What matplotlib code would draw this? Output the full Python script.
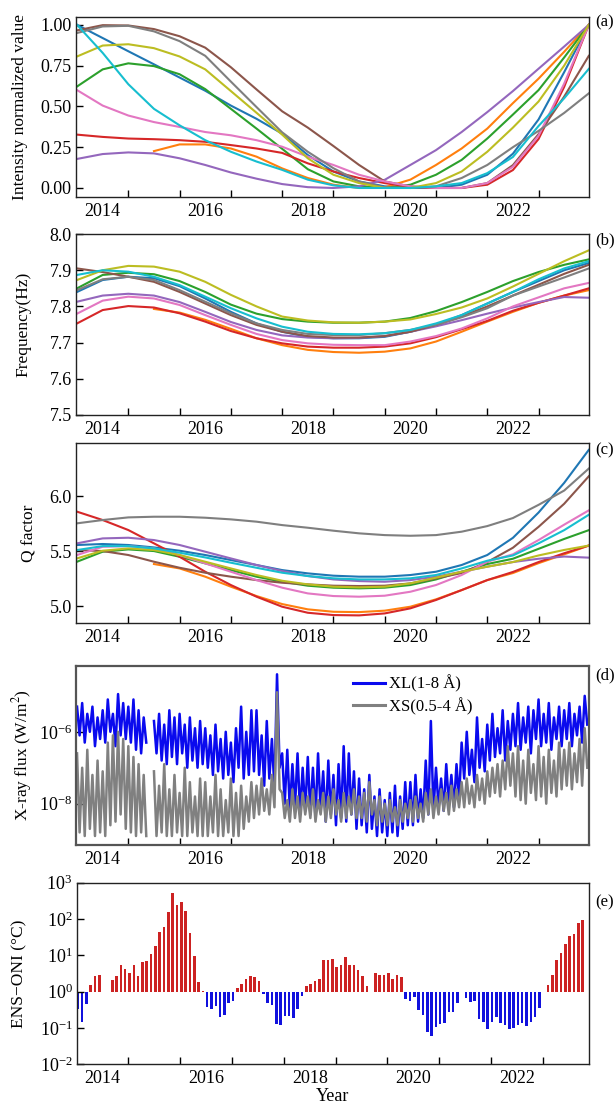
import numpy as np
import matplotlib.pyplot as plt
from matplotlib.ticker import FixedLocator, NullLocator, FormatStrFormatter

plt.rcParams['font.family'] = ['Liberation Serif', 'DejaVu Serif']
plt.rcParams['mathtext.fontset'] = 'stix'

nan = np.nan

# ---- panels (a)-(c): fitted curves, sampled every half year ----
fit_years = [2013.5, 2014.0, 2014.5, 2015.0, 2015.5, 2016.0, 2016.5, 2017.0, 2017.5, 2018.0, 2018.5,
             2019.0, 2019.5, 2020.0, 2020.5, 2021.0, 2021.5, 2022.0, 2022.5, 2023.0, 2023.48]

int_blue = [1.0, 0.919, 0.838, 0.758, 0.677, 0.596, 0.505, 0.424, 0.333, 0.202, 0.101, 0.04, 0.01, 0.0, 0.0, 0.02, 0.081, 0.21, 0.42, 0.71, 1.0]
int_orange = [nan, nan, nan, 0.226, 0.267, 0.267, 0.242, 0.192, 0.12, 0.061, 0.02, 0.0, 0.004, 0.051, 0.141, 0.242, 0.364, 0.52, 0.67, 0.835, 1.0]
int_green = [0.622, 0.727, 0.764, 0.747, 0.697, 0.606, 0.485, 0.364, 0.24, 0.115, 0.04, 0.01, 0.0, 0.02, 0.081, 0.172, 0.303, 0.45, 0.60, 0.80, 1.0]
int_red = [0.327, 0.313, 0.303, 0.299, 0.293, 0.283, 0.263, 0.242, 0.215, 0.151, 0.101, 0.061, 0.03, 0.006, 0.0, 0.0, 0.02, 0.11, 0.30, 0.62, 1.0]
int_purple = [0.178, 0.208, 0.218, 0.212, 0.182, 0.141, 0.095, 0.057, 0.024, 0.005, 0.0, 0.01, 0.05, 0.141, 0.232, 0.343, 0.465, 0.594, 0.731, 0.867, 1.0]
int_brown = [0.966, 0.998, 0.996, 0.974, 0.93, 0.86, 0.74, 0.604, 0.47, 0.37, 0.257, 0.141, 0.04, 0.01, 0.0, 0.0, 0.03, 0.14, 0.33, 0.56, 0.81]
int_pink = [0.60, 0.505, 0.444, 0.404, 0.374, 0.343, 0.323, 0.293, 0.253, 0.192, 0.141, 0.081, 0.04, 0.01, 0.0, 0.0, 0.03, 0.13, 0.32, 0.64, 1.0]
int_gray = [0.95, 0.99, 0.994, 0.96, 0.90, 0.81, 0.652, 0.496, 0.341, 0.222, 0.121, 0.04, 0.004, 0.0, 0.01, 0.061, 0.141, 0.25, 0.35, 0.46, 0.58]
int_olive = [0.806, 0.873, 0.881, 0.857, 0.806, 0.727, 0.594, 0.461, 0.327, 0.182, 0.081, 0.03, 0.0, 0.0, 0.03, 0.101, 0.222, 0.37, 0.53, 0.75, 1.0]
int_cyan = [1.0, 0.828, 0.636, 0.485, 0.384, 0.293, 0.222, 0.162, 0.111, 0.051, 0.016, 0.0, 0.0, 0.0, 0.01, 0.03, 0.091, 0.19, 0.38, 0.55, 0.73]

freq_blue = [7.84, 7.873, 7.882, 7.878, 7.856, 7.822, 7.785, 7.753, 7.73, 7.716, 7.712, 7.712, 7.716, 7.73, 7.749, 7.776, 7.808, 7.84, 7.87, 7.90, 7.92]
freq_orange = [nan, nan, nan, 7.793, 7.783, 7.763, 7.738, 7.712, 7.693, 7.68, 7.674, 7.672, 7.675, 7.684, 7.703, 7.73, 7.758, 7.785, 7.81, 7.83, 7.845]
freq_green = [7.85, 7.887, 7.893, 7.889, 7.87, 7.84, 7.805, 7.78, 7.765, 7.758, 7.755, 7.755, 7.758, 7.768, 7.787, 7.812, 7.84, 7.87, 7.895, 7.915, 7.93]
freq_red = [7.753, 7.79, 7.801, 7.797, 7.781, 7.758, 7.732, 7.712, 7.698, 7.689, 7.686, 7.686, 7.689, 7.698, 7.715, 7.737, 7.76, 7.788, 7.81, 7.83, 7.85]
freq_purple = [7.813, 7.83, 7.835, 7.83, 7.812, 7.785, 7.757, 7.735, 7.72, 7.714, 7.712, 7.713, 7.718, 7.73, 7.745, 7.762, 7.78, 7.797, 7.812, 7.826, 7.824]
freq_brown = [7.905, 7.895, 7.882, 7.868, 7.84, 7.808, 7.776, 7.749, 7.73, 7.718, 7.714, 7.714, 7.718, 7.73, 7.749, 7.772, 7.80, 7.83, 7.86, 7.89, 7.915]
freq_pink = [7.78, 7.816, 7.827, 7.822, 7.804, 7.776, 7.749, 7.724, 7.707, 7.698, 7.694, 7.693, 7.693, 7.703, 7.718, 7.739, 7.767, 7.80, 7.825, 7.85, 7.865]
freq_gray = [7.845, 7.875, 7.882, 7.873, 7.845, 7.813, 7.781, 7.753, 7.735, 7.724, 7.721, 7.721, 7.726, 7.735, 7.749, 7.77, 7.795, 7.83, 7.855, 7.88, 7.905]
freq_olive = [7.873, 7.90, 7.912, 7.91, 7.896, 7.868, 7.832, 7.80, 7.772, 7.761, 7.756, 7.755, 7.758, 7.764, 7.779, 7.797, 7.822, 7.855, 7.89, 7.925, 7.955]
freq_cyan = [7.887, 7.90, 7.896, 7.882, 7.859, 7.827, 7.795, 7.767, 7.744, 7.73, 7.724, 7.723, 7.726, 7.735, 7.753, 7.776, 7.808, 7.84, 7.875, 7.905, 7.925]

q_blue = [5.555, 5.564, 5.555, 5.533, 5.503, 5.464, 5.418, 5.373, 5.327, 5.297, 5.276, 5.267, 5.267, 5.282, 5.312, 5.373, 5.464, 5.62, 5.85, 6.12, 6.42]
q_orange = [nan, nan, nan, 5.382, 5.342, 5.267, 5.176, 5.091, 5.018, 4.97, 4.948, 4.945, 4.958, 4.994, 5.061, 5.145, 5.236, 5.30, 5.39, 5.47, 5.55]
q_green = [5.403, 5.494, 5.515, 5.50, 5.448, 5.388, 5.327, 5.267, 5.221, 5.185, 5.167, 5.161, 5.167, 5.191, 5.242, 5.312, 5.382, 5.43, 5.52, 5.61, 5.69]
q_red = [5.858, 5.782, 5.691, 5.570, 5.448, 5.312, 5.191, 5.085, 4.994, 4.939, 4.918, 4.915, 4.933, 4.979, 5.055, 5.145, 5.236, 5.31, 5.40, 5.48, 5.55]
q_purple = [5.57, 5.615, 5.621, 5.60, 5.555, 5.494, 5.433, 5.373, 5.318, 5.273, 5.242, 5.227, 5.221, 5.236, 5.267, 5.312, 5.358, 5.40, 5.43, 5.45, 5.44]
q_brown = [5.509, 5.50, 5.464, 5.403, 5.348, 5.303, 5.267, 5.236, 5.212, 5.197, 5.185, 5.182, 5.185, 5.206, 5.252, 5.30, 5.40, 5.53, 5.72, 5.93, 6.18]
q_pink = [5.464, 5.539, 5.545, 5.524, 5.464, 5.388, 5.312, 5.236, 5.167, 5.115, 5.091, 5.085, 5.094, 5.13, 5.191, 5.282, 5.403, 5.47, 5.60, 5.74, 5.87]
q_gray = [5.752, 5.782, 5.806, 5.812, 5.812, 5.803, 5.788, 5.767, 5.736, 5.712, 5.685, 5.661, 5.645, 5.639, 5.645, 5.676, 5.727, 5.80, 5.92, 6.05, 6.25]
q_olive = [5.433, 5.503, 5.524, 5.509, 5.464, 5.403, 5.342, 5.282, 5.23, 5.197, 5.176, 5.17, 5.176, 5.206, 5.258, 5.312, 5.358, 5.40, 5.46, 5.51, 5.55]
q_cyan = [5.509, 5.545, 5.545, 5.524, 5.485, 5.442, 5.394, 5.348, 5.303, 5.273, 5.252, 5.242, 5.242, 5.252, 5.282, 5.342, 5.412, 5.46, 5.57, 5.69, 5.83]

line_colors = ['#1f77b4', '#ff7f0e', '#2ca02c', '#d62728', '#9467bd',
               '#8c564b', '#e377c2', '#7f7f7f', '#bcbd22', '#17becf']

# ---- panel (d): X-ray flux, log10(W/m^2), every 0.05 yr from 2013.50 ----
xl_log = [
    # 2013.50 - 2014.45
    -5.3, -6.1, -5.2, -6.3, -5.5, -6.0, -5.3, -6.4, -5.6, -6.2, -5.4, -6.3, -5.1, -6.0, -5.5, -6.4, -4.95, -6.1, -5.2, -6.2,
    # 2014.50 - 2014.95 (data gap at the end)
    -5.3, -6.3, -5.1, -6.5, -5.4, -6.6, -5.6, -6.3, nan, nan,
    # 2015
    -5.7, -6.6, -5.5, -6.8, -5.8, -6.9, -5.4, -6.7, -5.6, -6.9, -5.5, -6.6, -5.8, -7.0, -5.6, -6.8, -5.9, -7.0, -5.7, -6.9,
    # 2016
    -5.9, -7.0, -6.1, -7.2, -5.8, -7.1, -6.2, -7.3, -6.0, -7.2, -6.3, -7.4, -5.9, -7.0, -5.3, -7.3, -6.0, -7.2, -5.4, -7.1,
    # 2017
    -5.4, -7.2, -6.1, -7.5, -5.7, -7.3, -6.2, -7.6, -4.4, -7.0, -6.6, -8.0, -6.5, -8.2, -6.9, -8.1, -6.6, -8.3, -7.0, -8.2,
    # 2018
    -6.7, -8.3, -7.0, -8.4, -6.6, -8.2, -7.1, -8.5, -6.8, -8.3, -7.2, -8.6, -6.9, -8.4, -6.4, -8.5, -6.6, -8.3, -7.1, -8.7,
    # 2019
    -7.3, -8.6, -7.6, -8.8, -7.2, -8.7, -7.8, -8.9, -7.6, -8.8, -7.9, -8.9, -7.7, -8.8, -7.5, -8.9, -7.8, -8.7, -7.4, -8.6,
    # 2020
    -7.4, -8.6, -7.2, -8.5, -7.6, -8.4, -6.8, -8.3, -5.7, -8.2, -7.0, -8.1, -7.3, -8.2, -6.9, -8.0, -7.2, -8.1, -6.9, -7.9,
    # 2021
    -6.3, -7.3, -6.0, -7.2, -6.5, -7.4, -5.6, -7.0, -6.2, -7.1, -5.8, -6.8, -5.5, -6.7, -5.9, -6.6, -5.4, -6.8, -5.7, -6.5,
    # 2022
    -5.5, -6.4, -5.2, -6.5, -5.6, -6.3, -5.3, -6.6, -5.4, -6.2, -5.1, -6.4, -5.5, -6.3, -5.2, -6.5, -5.6, -6.2, -5.3, -6.4,
    # 2023.00 - 2023.45
    -5.4, -6.2, -5.2, -6.4, -5.5, -6.1, -5.3, -6.3, -5.0, -5.8,
]
xs_log = [
    -6.6, -8.8, -7.0, -8.9, -6.5, -8.7, -7.2, -8.9, -6.8, -8.8, -7.1, -8.9, -6.3, -8.6, -6.1, -8.5, -6.0, -8.3, -6.2, -8.7,
    -6.4, -8.8, -6.7, -8.9, -6.9, -8.8, -7.2, -8.9, nan, nan,
    -7.1, -8.9, -7.5, -8.8, -6.9, -8.9, -7.6, -8.9, -7.2, -8.8, -7.7, -8.9, -7.0, -8.9, -7.4, -8.8, -7.8, -8.9, -7.3, -8.9,
    -7.4, -8.9, -7.8, -8.8, -7.2, -8.9, -7.6, -8.9, -7.9, -8.8, -7.3, -8.9, -7.7, -8.9, -7.5, -8.7, -7.8, -8.5, -7.4, -8.4,
    -7.5, -8.3, -7.3, -8.2, -7.6, -8.3, -7.2, -8.1, -4.9, -7.6, -7.7, -8.4, -7.9, -8.5, -7.6, -8.4, -7.8, -8.5, -7.7, -8.3,
    -7.8, -8.4, -7.6, -8.5, -7.9, -8.3, -7.7, -8.5, -7.8, -8.4, -7.6, -8.3, -7.9, -8.5, -7.7, -8.4, -7.8, -8.3, -7.6, -8.4,
    -7.8, -8.4, -7.7, -8.5, -7.4, -8.3, -7.9, -8.6, -7.8, -8.5, -8.0, -8.6, -7.9, -8.5, -8.1, -8.6, -7.9, -8.5, -8.0, -8.4,
    -7.9, -8.5, -7.8, -8.4, -8.0, -8.5, -7.7, -8.3, -7.6, -8.4, -7.8, -8.3, -7.6, -8.2, -7.7, -8.3, -7.5, -8.2, -7.6, -8.1,
    -7.4, -8.1, -7.3, -8.0, -7.5, -8.1, -7.2, -7.9, -7.3, -8.0, -7.1, -7.8, -7.0, -7.7, -6.9, -7.8, -6.8, -7.6, -6.4, -7.5,
    -6.6, -7.8, -6.4, -7.9, -6.8, -8.0, -6.5, -7.7, -6.9, -7.9, -6.4, -7.8, -6.7, -8.0, -6.5, -7.7, -6.8, -7.8, -6.3, -7.6,
    -6.5, -7.5, -6.3, -7.6, -6.6, -7.4, -6.2, -7.5, -5.9, -7.0,
]
flux_years = np.round(2013.5 + 0.05 * np.arange(len(xl_log)), 2)

# ---- panel (e): monthly ENSO index, log10 of plotted value, from 2013.52 ----
enso_log = [
    -0.49, -0.84, -0.34, 0.18, 0.44, 0.47, -0.02, -0.02, 0.31, 0.42,
    0.73, 0.62, 0.50, 0.73, 0.44, 0.82, 0.83, 1.04, 1.25, 1.65,
    1.79, 2.20, 2.71, 2.38, 2.46, 2.23, 1.61, 0.98, 0.27, 0.01,
    -0.41, -0.48, -0.39, -0.69, -0.64, -0.32, -0.27, 0.09, 0.21, 0.35,
    0.42, 0.39, 0.28, -0.06, -0.32, -0.37, -0.90, -0.93, -0.68, -0.66,
    -0.72, -0.47, -0.11, 0.16, 0.22, 0.28, 0.34, 0.86, 0.86, 0.90,
    0.67, 0.72, 0.96, 0.72, 0.74, 0.60, 0.42, 0.16, -0.01, 0.52,
    0.46, 0.45, 0.52, 0.35, 0.46, 0.40, -0.21, -0.26, -0.14, -0.51,
    -0.64, -1.12, -1.21, -0.97, -0.89, -0.87, -0.55, -0.57, -0.31, -0.02,
    -0.18, -0.28, -0.27, -0.76, -0.83, -1.04, -0.83, -0.70, -0.87, -0.91,
    -1.04, -1.00, -0.93, -0.87, -0.94, -0.85, -0.70, -0.46, -0.02, 0.18,
    0.47, 0.88, 1.07, 1.30, 1.54, 1.58, 1.90, 1.97,
]
enso_years = 2013.52 + np.arange(len(enso_log)) / 12.0

year_labels = ['2014', '2016', '2018', '2020', '2022']


def style_axis(ax, xlim, letter, letter_y, label_x):
    ax.set_xlim(*xlim)
    # tick marks sit at mid-year, labels at the year itself
    ax.xaxis.set_major_locator(FixedLocator(np.arange(2014.5, 2023.0, 1.0)))
    ax.set_xticklabels([])
    ax.set_xticks([2014, 2016, 2018, 2020, 2022], minor=True)
    ax.set_xticklabels(year_labels, minor=True)
    ax.tick_params(axis='x', which='major', direction='in', length=5, width=1)
    ax.tick_params(axis='x', which='minor', length=0, pad=4, labelsize=13)
    ax.tick_params(axis='y', which='major', direction='in', length=5, width=1, pad=3, labelsize=13)
    ax.tick_params(axis='y', which='minor', left=False, right=False)
    for s in ax.spines.values():
        s.set_color('#222222')
        s.set_linewidth(1.0)
    ax.yaxis.set_label_coords(label_x, 0.5)
    ax.text(1.012, letter_y, '(%s)' % letter, transform=ax.transAxes,
            ha='left', va='center', fontsize=12)


fig = plt.figure(figsize=(6.14, 11.04), dpi=100)

ax_a = fig.add_axes([0.1238, 0.8216, 0.836, 0.1633])
ax_b = fig.add_axes([0.1238, 0.6241, 0.836, 0.1639])
ax_c = fig.add_axes([0.1238, 0.4354, 0.836, 0.1636])
ax_d = fig.add_axes([0.1238, 0.2346, 0.836, 0.1621])
ax_e = fig.add_axes([0.1249, 0.0360, 0.8349, 0.1645])

main_xlim = (2013.48, 2023.49)

# (a)
int_series = [int_blue, int_orange, int_green, int_red, int_purple,
              int_brown, int_pink, int_gray, int_olive, int_cyan]
for vals, c in zip(int_series, line_colors):
    ax_a.plot(fit_years, vals, color=c, lw=1.5)
ax_a.set_ylim(-0.055, 1.05)
ax_a.set_yticks([0.0, 0.25, 0.5, 0.75, 1.0])
ax_a.yaxis.set_major_formatter(FormatStrFormatter('%.2f'))
ax_a.set_ylabel('Intensity normalized value', fontsize=12.5)
style_axis(ax_a, main_xlim, 'a', 0.967, -0.094)

# (b)
freq_series = [freq_blue, freq_orange, freq_green, freq_red, freq_purple,
               freq_brown, freq_pink, freq_gray, freq_olive, freq_cyan]
for vals, c in zip(freq_series, line_colors):
    ax_b.plot(fit_years, vals, color=c, lw=1.5)
ax_b.set_ylim(7.5, 8.0)
ax_b.set_yticks([7.5, 7.6, 7.7, 7.8, 7.9, 8.0])
ax_b.yaxis.set_major_formatter(FormatStrFormatter('%.1f'))
ax_b.set_ylabel('Frequency(Hz)', fontsize=12.5)
style_axis(ax_b, main_xlim, 'b', 0.967, -0.087)

# (c)
q_series = [q_blue, q_orange, q_green, q_red, q_purple,
            q_brown, q_pink, q_gray, q_olive, q_cyan]
for vals, c in zip(q_series, line_colors):
    ax_c.plot(fit_years, vals, color=c, lw=1.5)
ax_c.set_ylim(4.843, 6.485)
ax_c.set_yticks([5.0, 5.5, 6.0])
ax_c.yaxis.set_major_formatter(FormatStrFormatter('%.1f'))
ax_c.set_ylabel('Q factor', fontsize=12.5)
style_axis(ax_c, main_xlim, 'c', 0.96, -0.075)

# (d)
ax_d.plot(flux_years, 10.0 ** np.array(xl_log), color='#0a0aee', lw=1.8, label='XL(1-8 Å)')
ax_d.plot(flux_years, 10.0 ** np.array(xs_log), color='#808080', lw=1.8, label='XS(0.5-4 Å)')
ax_d.set_yscale('log')
ax_d.set_ylim(10 ** -9.15, 10 ** -4.17)
ax_d.yaxis.set_major_locator(FixedLocator([1e-8, 1e-6]))
ax_d.yaxis.set_minor_locator(NullLocator())
ax_d.set_ylabel('X-ray flux (W/m$^2$)', fontsize=12.5)
leg = ax_d.legend(loc='upper left', bbox_to_anchor=(0.54, 0.95), frameon=False, fontsize=12,
                  handlelength=1.9, handletextpad=0.25, labelspacing=0.3, borderpad=0, borderaxespad=0)
for h in leg.get_lines():
    h.set_linewidth(2.2)
style_axis(ax_d, main_xlim, 'd', 0.95, -0.081)
for s in ax_d.spines.values():
    s.set_color('#555555')
    s.set_linewidth(1.6)

# (e)
enso_vals = 10.0 ** np.array(enso_log)
bar_colors = ['#cc2222' if v >= 0 else '#1111dd' for v in enso_log]
ax_e.bar(enso_years, enso_vals - 1.0, bottom=1.0, width=0.05, color=bar_colors, linewidth=0)
ax_e.set_yscale('log')
ax_e.set_ylim(1e-2, 1e3)
ax_e.yaxis.set_major_locator(FixedLocator([1e-2, 1e-1, 1e0, 1e1, 1e2, 1e3]))
ax_e.yaxis.set_minor_locator(NullLocator())
ax_e.set_ylabel('ENS−ONI (°C)', fontsize=12.5)
ax_e.set_xlabel('Year', fontsize=13, labelpad=1)
style_axis(ax_e, (2013.50, 2023.40), 'e', 0.89, -0.097)

fig.savefig('out.png', dpi=100)
